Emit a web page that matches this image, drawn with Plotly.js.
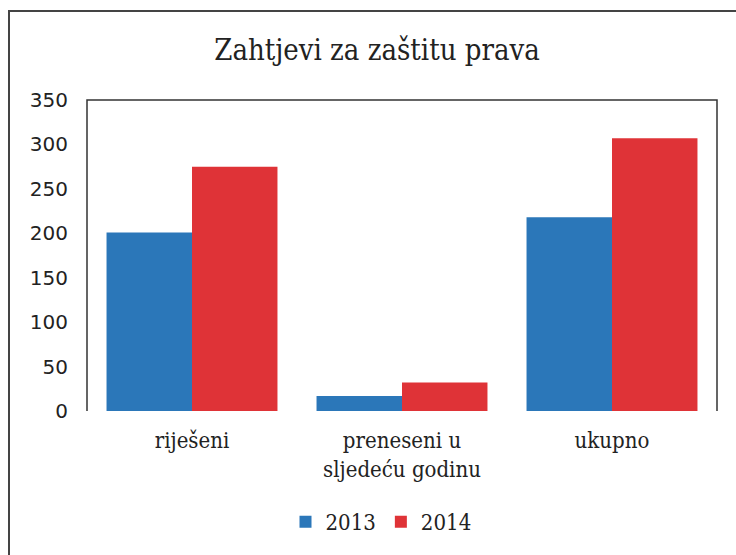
<!DOCTYPE html>
<html>
<head>
<meta charset="utf-8">
<script src="https://cdn.plot.ly/plotly-3.0.1.min.js"></script>
<style>html,body{margin:0;padding:0;background:#fff;}#chart{width:736px;height:555px;}</style>
</head>
<body>
<div id="chart"></div>
<script>
const categories = ["riješeni", "preneseni u<br>sljedeću godinu", "ukupno"];
const series2013 = [201, 17, 218];
const series2014 = [275, 32, 307];
const seriesNames = ["2013", "2014"];
const yTicks = [0, 50, 100, 150, 200, 250, 300, 350];

const serif = "'DejaVu Serif Condensed', 'Liberation Serif', serif";
const sans = "'DejaVu Sans', 'Liberation Sans', sans-serif";

const traces = [
  {type: "bar", name: seriesNames[0], x: categories, y: series2013, marker: {color: "#2b77b9"}},
  {type: "bar", name: seriesNames[1], x: categories, y: series2014, marker: {color: "#df3337"}}
];

const L = 87, R = 717, T = 100, B = 411;
const px = v => (v - L) / (R - L);
const py = v => (B - v) / (B - T);

const layout = {
  width: 736, height: 555,
  margin: {l: L, r: 736 - R, t: T, b: 555 - B, pad: 0},
  paper_bgcolor: "#fff", plot_bgcolor: "#fff",
  title: {text: "Zahtjevi za zaštitu prava", font: {family: serif, size: 29, color: "#222"},
          x: 377/736, xref: "container", xanchor: "center", y: 1 - 50/555, yref: "container", yanchor: "middle"},
  barmode: "group", bargap: 0.186, bargroupgap: 0,
  xaxis: {showgrid: false, showline: false, zeroline: false, ticks: "",
          tickfont: {family: serif, size: 22, color: "#222"}, ticklabelstandoff: 14},
  yaxis: {range: [0, 350], tickvals: yTicks, showgrid: false, zeroline: false, showline: false,
          ticks: "", tickfont: {family: sans, size: 20, color: "#222"}, ticklabelstandoff: 18},
  legend: {orientation: "h", x: px(381), xanchor: "center", y: py(522), yanchor: "middle",
           font: {family: serif, size: 22, color: "#222"}, itemwidth: 30, tracegroupgap: 0},
  showlegend: true,
  shapes: [
    {type: "path", xref: "paper", yref: "paper",
     path: `M 0 0 L 0 1 L 1 1 L 1 0`, line: {color: "#333", width: 1.5}},
    {type: "path", xref: "paper", yref: "paper",
     path: `M ${px(9)} ${py(560)} L ${px(9)} ${py(11)} L ${px(740)} ${py(11)}`, line: {color: "#444", width: 2}}
  ]
};

Plotly.newPlot("chart", traces, layout, {displayModeBar: false, staticPlot: true});
</script>
</body>
</html>
